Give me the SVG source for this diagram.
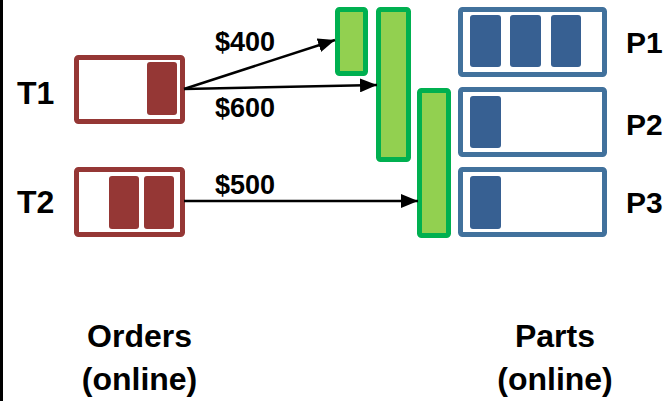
<svg xmlns="http://www.w3.org/2000/svg" width="669" height="401" viewBox="0 0 669 401">
<defs>
<style>
text{font-family:"Liberation Sans",Arial,sans-serif;font-weight:bold;fill:#000}
.ob{fill:#fff;stroke:#953735;stroke-width:5}
.oi{fill:#953735}
.pb{fill:#fff;stroke:#41719C;stroke-width:5}
.pi{fill:#376092}
.g{fill:#92D050;stroke:#00B050;stroke-width:5}
.c{stroke:#000;stroke-width:2.4;fill:none;marker-end:url(#ah)}
.lbl{font-size:27px}
.big{font-size:32px}
.pl{font-size:30px}
</style>
<marker id="ah" markerUnits="userSpaceOnUse" markerWidth="18" markerHeight="14" refX="17" refY="7" orient="auto">
<path d="M0,0 L17,7 L0,14 z" fill="#000"/>
</marker>
</defs>
<rect x="0" y="0" width="3" height="401" fill="#000"/>

<g id="T1">
<text class="big" x="17" y="104">T1</text>
<rect class="ob" x="76.5" y="57.5" width="106" height="64" rx="2"/>
<rect class="oi" x="147" y="62" width="30" height="53" rx="3"/>
</g>
<g id="T2">
<text class="big" x="17" y="213">T2</text>
<rect class="ob" x="76.5" y="169.5" width="106" height="65" rx="2"/>
<rect class="oi" x="109" y="176" width="30" height="53" rx="3"/>
<rect class="oi" x="144" y="176" width="30" height="53" rx="3"/>
</g>

<g id="G1"><rect class="g" x="337.5" y="9.5" width="28" height="64" rx="2"/></g>
<g id="G2"><rect class="g" x="378.5" y="9.5" width="30" height="150" rx="2"/></g>
<g id="G3"><rect class="g" x="419.5" y="90.5" width="29" height="145" rx="2"/></g>

<g id="P1">
<rect class="pb" x="460.5" y="9.5" width="144" height="65" rx="2"/>
<rect class="pi" x="470" y="15" width="31" height="52" rx="3"/>
<rect class="pi" x="510" y="15" width="31" height="52" rx="3"/>
<rect class="pi" x="551" y="15" width="30" height="52" rx="3"/>
<text class="pl" x="626" y="53">P1</text>
</g>
<g id="P2">
<rect class="pb" x="460.5" y="89.5" width="144" height="65" rx="2"/>
<rect class="pi" x="470" y="96" width="31" height="52" rx="3"/>
<text class="pl" x="626" y="135">P2</text>
</g>
<g id="P3">
<rect class="pb" x="460.5" y="169.5" width="144" height="65" rx="2"/>
<rect class="pi" x="470" y="176" width="31" height="53" rx="3"/>
<text class="pl" x="626" y="213">P3</text>
</g>

<g id="connectors">
<line class="c" x1="184" y1="89" x2="335" y2="40"/>
<line class="c" x1="184" y1="89" x2="377" y2="85"/>
<line class="c" x1="184" y1="201" x2="418" y2="201"/>
<text class="lbl" x="215" y="51">$400</text>
<text class="lbl" x="215" y="117">$600</text>
<text class="lbl" x="215" y="194">$500</text>
</g>

<g id="labels">
<text class="big" x="139.5" y="347" text-anchor="middle">Orders</text>
<text class="big" x="139.5" y="390" text-anchor="middle">(online)</text>
<text class="big" x="555" y="347" text-anchor="middle">Parts</text>
<text class="big" x="555" y="390" text-anchor="middle">(online)</text>
</g>
</svg>
